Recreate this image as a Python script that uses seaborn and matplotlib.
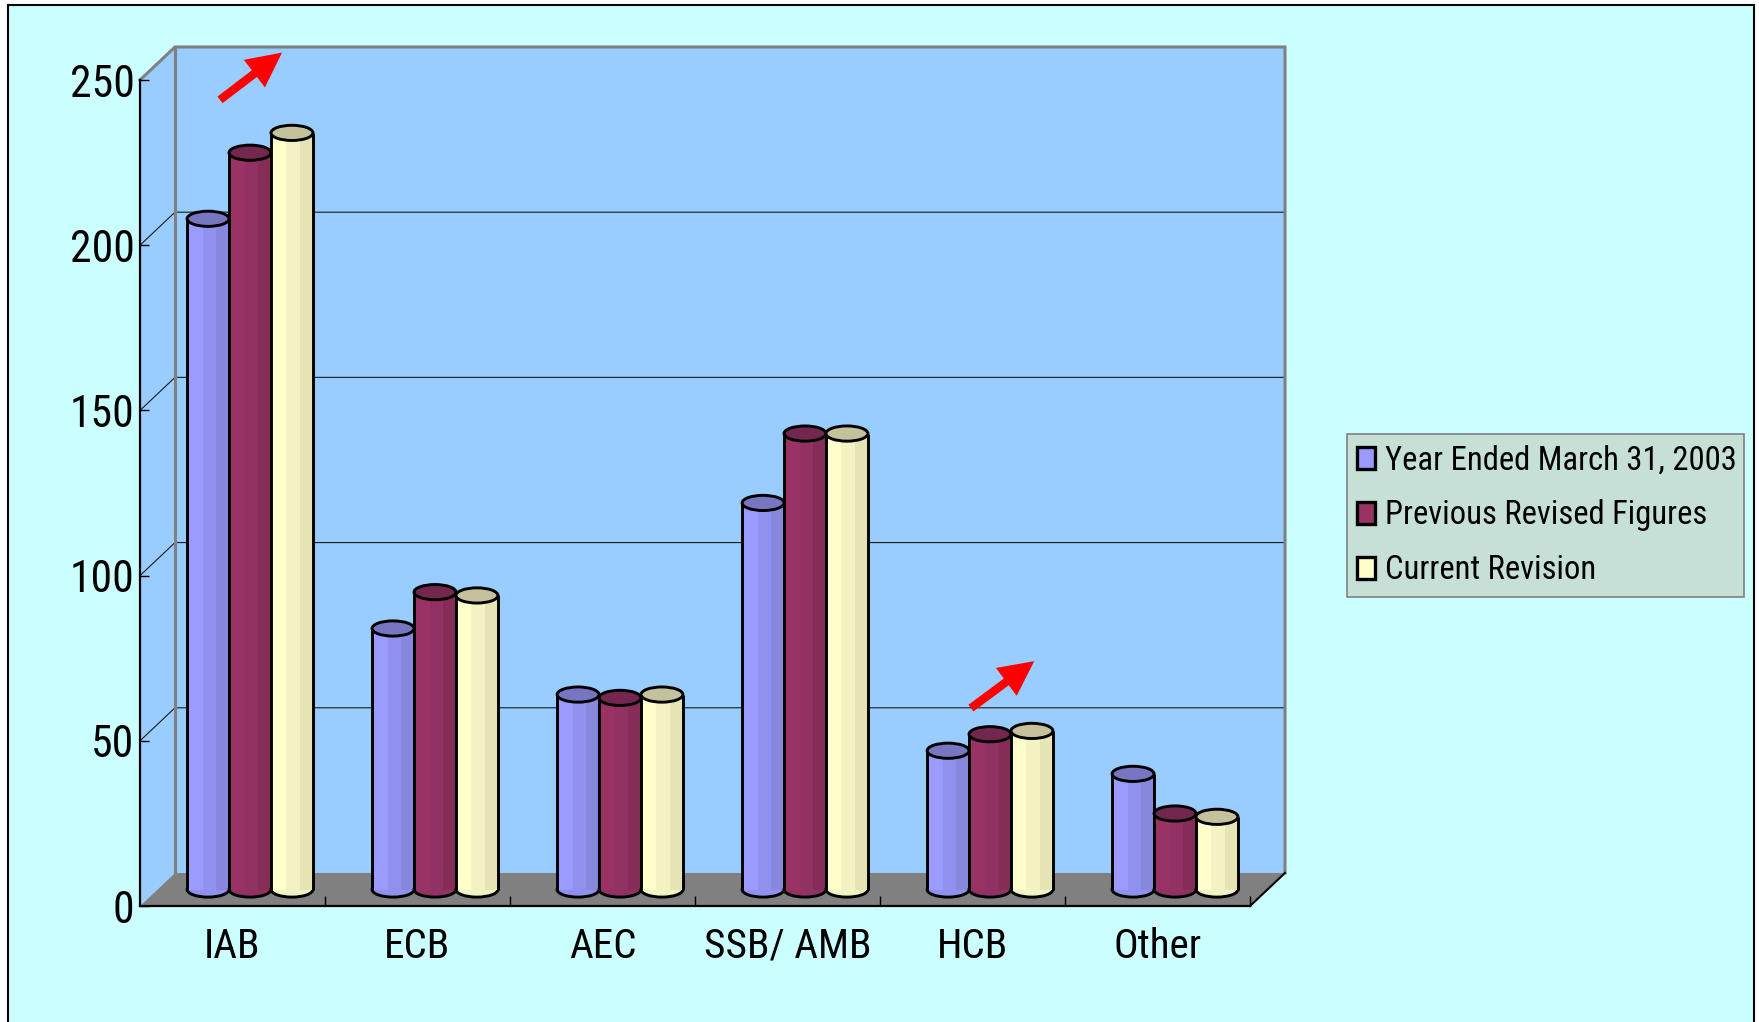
import matplotlib
matplotlib.use("Agg")
import matplotlib.pyplot as plt
import numpy as np
import pandas as pd
import seaborn as sns
from matplotlib import font_manager as fm
from matplotlib.patches import Polygon, Rectangle, Ellipse, Patch

# ---- data -------------------------------------------------------------
categories = ["IAB", "ECB", "AEC", "SSB/ AMB", "HCB", "Other"]
series_names = ["Year Ended March 31, 2003", "Previous Revised Figures", "Current Revision"]
year_2003 = [203, 79, 59, 117, 42, 35]
previous_revised = [223, 90, 58, 138, 47, 23]
current_revision = [229, 89, 59, 138, 48, 22]
y_ticks = [0, 50, 100, 150, 200, 250]

# body (light, mid, dark) and cap colours for each series
body_light = ["#9A9AFF", "#993366", "#FFFFCC"]
body_mid = ["#9090EE", "#923163", "#F3F2C3"]
body_dark = ["#8787DD", "#852C57", "#E5E4B4"]
cap_colors = ["#7676C1", "#73264E", "#C3C29C"]


# ---- font: prefer a narrow sans face when one is installed -------------
def narrow_font():
    preferred = ["Liberation Sans Narrow", "Arial Narrow", "Roboto Condensed",
                 "Noto Sans Condensed", "Open Sans Condensed", "DejaVu Sans Condensed"]
    entries = fm.fontManager.ttflist
    names = {f.name for f in entries}
    for p in preferred:
        if p in names:
            return p, "normal"
    for fam in ["Liberation Sans", "Noto Sans", "Roboto", "Open Sans", "DejaVu Sans"]:
        for f in entries:
            if (f.name == fam and f.style == "normal" and f.weight in (400, "normal", "regular")
                    and str(f.stretch) in ("condensed", "semi-condensed", "extra-condensed")):
                return fam, str(f.stretch)
    return "Liberation Sans", "normal"


FAMILY, STRETCH = narrow_font()
plt.rcParams["font.family"] = [FAMILY, "Liberation Sans", "DejaVu Sans"]
plt.rcParams["font.stretch"] = STRETCH

W, H = 1759, 1022
fig = plt.figure(figsize=(W / 100, H / 100), dpi=100, facecolor="white")
renderer = fig.canvas.get_renderer()


def fitted_size(text, base, target_px, slack=1.0):
    t = fig.text(0, 0, text, fontsize=base)
    w = t.get_window_extent(renderer).width
    t.remove()
    return min(base, base * target_px / w * slack)


tick_size = fitted_size("250", 32, 54, 1.2)
cat_size = fitted_size("SSB/ AMB", 32, 155, 1.08)
legend_size = fitted_size(series_names[0], 27, 352, 1.0)
legend_px = legend_size * 100 / 72

# outer chart area with black frame
fig.patches.append(Rectangle((8 / W, -0.05), (1754 - 8) / W, 1 - 5 / H + 0.05,
                             transform=fig.transFigure, facecolor="#CCFFFF",
                             edgecolor="black", linewidth=1.5, zorder=-1))

ax = fig.add_axes([111.25 / W, (H - 929.15) / H, (1313.75 - 111.25) / W, (929.15 - 23.85) / H])
ax.set_facecolor("none")

# pseudo-3D depth (half depth in data units)
DX, DY = 0.0946, 5.0
YMAX = y_ticks[-1]
XFL, XFR = -0.5 - DX, len(categories) - 0.5 - DX
XBL, XBR = -0.5 + DX, len(categories) - 0.5 + DX

# walls and floor
ax.add_patch(Rectangle((XBL, DY), XBR - XBL, YMAX, facecolor="#99CCFF", edgecolor="none", zorder=0.5))
ax.add_patch(Polygon([(XFL, -DY), (XBL, DY), (XBL, YMAX + DY), (XFL, YMAX - DY)],
                     closed=True, facecolor="#99CCFF", edgecolor="none", zorder=0.5))
ax.add_patch(Polygon([(XFL, -DY), (XFR, -DY), (XBR, DY), (XBL, DY)],
                     closed=True, facecolor="#808080", edgecolor="none", zorder=0.6))

# gridlines on side and back walls
for v in y_ticks[1:-1]:
    ax.plot([XFL, XBL, XBR], [v - DY, v + DY, v + DY], color="#1a1a1a", lw=0.8, zorder=0.7)

# wall outlines
ax.plot([XFL, XBL, XBR, XBR], [YMAX - DY, YMAX + DY, YMAX + DY, DY], color="#808080", lw=2.2,
        zorder=0.8, solid_joinstyle="miter")
ax.plot([XBL, XBL], [DY, YMAX + DY], color="#808080", lw=2.2, zorder=0.8)
ax.plot([XFR, XBR], [-DY, DY], color="black", lw=1.5, zorder=0.8)

# ---- bars -------------------------------------------------------------
df = pd.DataFrame({
    "category": categories * 3,
    "series": np.repeat(series_names, len(categories)),
    "value": year_2003 + previous_revised + current_revision,
})
sns.barplot(data=df, x="category", y="value", hue="series", order=categories,
            hue_order=series_names, palette=dict(zip(series_names, body_light)),
            width=0.68, saturation=1, linewidth=0, errorbar=None, legend=False, ax=ax)

EH = 4.6  # cylinder cap height in data units
for i, cont in enumerate(ax.containers):
    zb = 2 + i
    for bar in cont:
        x, w, h = bar.get_x(), bar.get_width(), bar.get_height()
        bar.set_zorder(zb + 0.1)
        ax.add_patch(Ellipse((x + w / 2, 0), w, EH, facecolor=body_mid[i], edgecolor="black",
                             lw=2.1, zorder=zb))
        ax.add_patch(Rectangle((x + 0.37 * w, 0), 0.33 * w, h, facecolor=body_mid[i],
                               edgecolor="none", zorder=zb + 0.15))
        ax.add_patch(Rectangle((x + 0.70 * w, 0), 0.30 * w, h, facecolor=body_dark[i],
                               edgecolor="none", zorder=zb + 0.15))
        for xe in (x, x + w):
            ax.plot([xe, xe], [0, h], color="black", lw=2.1, zorder=zb + 0.2, solid_capstyle="butt")
        ax.add_patch(Ellipse((x + w / 2, h), w, EH, facecolor=cap_colors[i], edgecolor="black",
                             lw=2.1, zorder=zb + 0.3))

# ---- axes -------------------------------------------------------------
ax.set_xlim(-0.75, len(categories) - 0.25)
ax.set_ylim(-12, 262)
ax.set_xlabel("")
ax.set_ylabel("")
for s in ("top", "right"):
    ax.spines[s].set_visible(False)
ax.spines["left"].set_position(("data", XFL))
ax.spines["left"].set_bounds(-DY, YMAX - DY)
ax.spines["bottom"].set_position(("data", -DY))
ax.spines["bottom"].set_bounds(XFL, XFR)
for s in ("left", "bottom"):
    ax.spines[s].set_linewidth(1.6)
    ax.spines[s].set_color("black")
    ax.spines[s].set_zorder(6)

ax.set_yticks([v - DY for v in y_ticks])
ax.set_yticklabels([str(v) for v in y_ticks])
ax.set_xticks([k - DX for k in range(len(categories))])
ax.set_xticklabels(categories)
ax.set_xticks([k + 0.5 - DX for k in range(len(categories))], minor=True)
ax.tick_params(axis="y", direction="in", length=6.5, width=1, pad=4, labelsize=tick_size, colors="black")
ax.tick_params(axis="x", which="major", length=0, pad=15, labelsize=cat_size, colors="black")
ax.tick_params(axis="x", which="minor", direction="in", length=7.5, width=1, colors="black")

# red trend arrows
arrow_style = "simple,head_length=2.5,head_width=2.5,tail_width=0.6"
for tail, tip in [((-0.162, 239), (0.173, 253.3)), ((3.897, 54.9), (4.239, 69.1))]:
    ax.annotate("", xy=tip, xytext=tail,
                arrowprops=dict(arrowstyle=arrow_style, mutation_scale=10, fc="red", ec="red",
                                lw=0, shrinkA=0, shrinkB=0), zorder=7)

# ---- legend -----------------------------------------------------------
handles = [Patch(facecolor=c, edgecolor="black", linewidth=2.4) for c in body_light]
leg = fig.legend(handles, series_names, loc="upper left",
                 bbox_to_anchor=(1347 / W, 1 - 600 / H, (1744 - 1347) / W, (600 - 434) / H),
                 mode="expand", borderaxespad=0, frameon=True, fancybox=False,
                 facecolor="#C6E0D8", edgecolor="#808080", framealpha=1, fontsize=legend_size,
                 handlelength=18 / legend_px, handleheight=21 / legend_px,
                 handletextpad=10 / legend_px, labelspacing=0.70, borderpad=0.32)
leg.get_frame().set_linewidth(1.2)

fig.savefig("out.png", dpi=100, facecolor=fig.get_facecolor())
